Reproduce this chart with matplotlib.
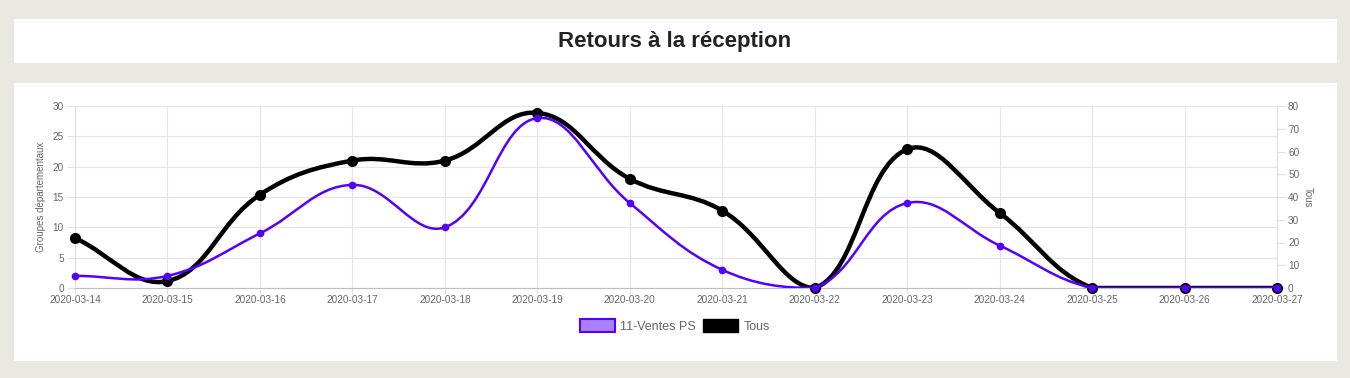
import numpy as np
import matplotlib
matplotlib.use("Agg")
import matplotlib.pyplot as plt
from matplotlib.path import Path
from matplotlib.patches import PathPatch, Rectangle, Patch

plt.rcParams['font.family'] = ['Liberation Sans', 'DejaVu Sans']

# data
dates = ['2020-03-14', '2020-03-15', '2020-03-16', '2020-03-17', '2020-03-18',
         '2020-03-19', '2020-03-20', '2020-03-21', '2020-03-22', '2020-03-23',
         '2020-03-24', '2020-03-25', '2020-03-26', '2020-03-27']
ventes_ps = [2, 2, 9, 17, 10, 28, 14, 3, 0, 14, 7, 0, 0, 0]
tous = [22, 3, 41, 56, 56, 77, 48, 34, 0, 61, 33, 0, 0, 0]

PURPLE = '#5500ff'
GREY = '#666666'
W, H = 1350, 378


def spline_path(ax, xs, ys, tension=0.4):
    """Chart.js-style bezier curve, computed in pixel space"""
    pts = ax.transData.transform(np.column_stack([xs, ys]))
    bbox = ax.get_window_extent()
    n = len(pts)
    cp_prev, cp_next = [], []
    for i in range(n):
        prev = pts[max(i - 1, 0)]
        cur = pts[i]
        nxt = pts[min(i + 1, n - 1)]
        d01 = np.hypot(*(cur - prev))
        d12 = np.hypot(*(nxt - cur))
        tot = d01 + d12
        s01 = d01 / tot if tot else 0
        s12 = d12 / tot if tot else 0
        cp_prev.append(cur - tension * s01 * (nxt - prev))
        cp_next.append(cur + tension * s12 * (nxt - prev))

    def cap(p):
        return np.array([np.clip(p[0], bbox.x0, bbox.x1), np.clip(p[1], bbox.y0, bbox.y1)])

    verts = [pts[0]]
    codes = [Path.MOVETO]
    for i in range(n - 1):
        verts += [cap(cp_next[i]), cap(cp_prev[i + 1]), pts[i + 1]]
        codes += [Path.CURVE4] * 3
    verts = ax.transData.inverted().transform(np.array(verts))
    return Path(verts, codes)


fig = plt.figure(figsize=(W / 100, H / 100), dpi=100)
fig.patch.set_facecolor('#e9e8e1')

# white panels (behind the axes)
fig.add_artist(Rectangle((14 / W, 1 - 63 / H), (1337 - 14) / W, 44 / H, zorder=-5,
                         transform=fig.transFigure, facecolor='white', edgecolor='none'))
fig.add_artist(Rectangle((14 / W, 1 - 361 / H), (1337 - 14) / W, (361 - 83) / H, zorder=-5,
                         transform=fig.transFigure, facecolor='white', edgecolor='none'))

fig.text(0.5, 1 - 41 / H, 'Retours à la réception', ha='center', va='center',
         fontsize=16, fontweight='bold', color='#222222')

ax = fig.add_axes([75 / W, 1 - 288 / H, (1277 - 75) / W, 182 / H])
ax2 = ax.twinx()
x = np.arange(len(dates))

ax.set_xlim(0, len(dates) - 1)
ax.set_ylim(0, 30)
ax2.set_ylim(0, 80)
ax.set_facecolor('white')

ax.set_xticks(x)
ax.set_xticklabels(dates)
ax.set_yticks(np.arange(0, 31, 5))
ax2.set_yticks(np.arange(0, 81, 10))
ax.grid(True, color='#e6e6e6', linewidth=0.8)
ax.set_axisbelow(True)

for a in (ax, ax2):
    a.tick_params(colors='#e0e0e0', labelcolor=GREY, labelsize=7.2, length=6, width=0.8, pad=2)
    for s in a.spines.values():
        s.set_visible(False)
ax.tick_params(axis='x', length=4, pad=1)
ax.spines['bottom'].set_visible(True)
ax.spines['bottom'].set_color('#bfbfbf')
ax.spines['left'].set_visible(True)
ax.spines['left'].set_color('#e0e0e0')
ax2.spines['right'].set_visible(True)
ax2.spines['right'].set_color('#e0e0e0')

ax.set_ylabel('Groupes départementaux', color=GREY, fontsize=7, labelpad=5)
ax2.set_ylabel('Tous', color=GREY, fontsize=7, rotation=270, labelpad=10)

# black series (right axis), drawn below purple one
ax2.add_patch(PathPatch(spline_path(ax2, x, tous), facecolor='none', edgecolor='black',
                        linewidth=3.2, capstyle='round', joinstyle='round', zorder=2))
ax2.plot(x, tous, 'o', color='black', markersize=7, zorder=3, clip_on=False)

# purple series (left axis) on top
ax3 = ax.twinx()
ax3.set_ylim(0, 30)
ax3.axis('off')
ax3.add_patch(PathPatch(spline_path(ax3, x, ventes_ps), facecolor='none', edgecolor=PURPLE,
                        linewidth=1.8, capstyle='round', joinstyle='round', zorder=2))
ax3.plot(x, ventes_ps, 'o', color=PURPLE, markersize=4.5, zorder=3, clip_on=False)

handles = [Patch(facecolor='#aa80ff', edgecolor=PURPLE, linewidth=1.5, label='11-Ventes PS'),
           Patch(facecolor='black', edgecolor='black', label='Tous')]
fig.legend(handles=handles, loc='center', bbox_to_anchor=(675 / W, 1 - 326 / H), ncol=2,
           frameon=False, fontsize=9, labelcolor=GREY, handlelength=2.8, handleheight=1.2,
           handletextpad=0.4, columnspacing=0.6)

fig.savefig('out.png', dpi=100, facecolor=fig.get_facecolor())
